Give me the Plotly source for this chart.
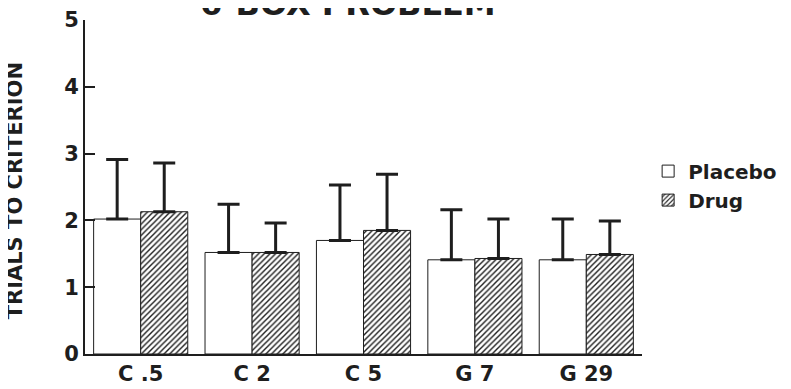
import plotly.graph_objects as go

categories = ["C .5", "C 2", "C 5", "G 7", "G 29"]
placebo_mean = [2.02, 1.52, 1.70, 1.41, 1.41]
placebo_upper = [2.91, 2.24, 2.53, 2.16, 2.02]
drug_mean = [2.13, 1.52, 1.85, 1.43, 1.49]
drug_upper = [2.86, 1.96, 2.69, 2.02, 1.99]
y_ticks = [0, 1, 2, 3, 4, 5]

FONT = "DejaVu Sans"
INK = "#1e1e1e"

def upper_err(means, uppers):
    return [u - m for m, u in zip(means, uppers)]

fig = go.Figure()
fig.add_trace(go.Bar(
    name="Placebo", x=categories, y=placebo_mean,
    marker=dict(color="white", line=dict(color=INK, width=1)),
    error_y=dict(type="data", symmetric=False,
                 array=upper_err(placebo_mean, placebo_upper),
                 arrayminus=[0] * len(categories),
                 color=INK, thickness=3, width=11),
))
fig.add_trace(go.Bar(
    name="Drug", x=categories, y=drug_mean,
    marker=dict(color="white", line=dict(color=INK, width=1),
                pattern=dict(shape="/", size=4, solidity=0.35,
                             fgcolor=INK, bgcolor="white", fillmode="replace")),
    error_y=dict(type="data", symmetric=False,
                 array=upper_err(drug_mean, drug_upper),
                 arrayminus=[0] * len(categories),
                 color=INK, thickness=3, width=11),
))

fig.update_layout(
    width=791, height=389,
    margin=dict(l=77, r=157, t=12, b=43, autoexpand=False),
    paper_bgcolor="white", plot_bgcolor="white",
    barmode="group", bargap=0.155, bargroupgap=0,
    font=dict(family=FONT, size=21, color=INK),
    showlegend=True,
    legend=dict(x=1.011, xanchor="left", y=0.606, yanchor="top",
                font=dict(family=FONT, size=20, color=INK, weight="bold"),
                bgcolor="rgba(0,0,0,0)", tracegroupgap=0, itemwidth=30),
    xaxis=dict(range=[-0.5, 4.5], showline=True, linecolor=INK, linewidth=2,
               ticks="", showgrid=False, zeroline=False, automargin=False,
               tickfont=dict(family=FONT, size=21, color=INK, weight="bold")),
    yaxis=dict(range=[0, 5], tickvals=y_ticks, showline=True, linecolor=INK,
               linewidth=2, ticks="inside", ticklen=10, tickwidth=2,
               tickcolor=INK, showgrid=False, zeroline=False, automargin=False,
               tickfont=dict(family=FONT, size=21, color=INK, weight="bold")),
    annotations=[
        dict(text="6-BOX PROBLEM", xref="paper", yref="paper", x=0.472, y=1,
             xanchor="center", yanchor="bottom", yshift=-5, showarrow=False,
             font=dict(family=FONT, size=32, color=INK, weight="bold")),
        dict(text="TRIALS TO CRITERION", xref="paper", yref="paper",
             x=-0.1257, y=0.49, xanchor="center", yanchor="middle",
             textangle=-90, showarrow=False,
             font=dict(family=FONT, size=21, color=INK, weight="bold")),
    ],
)

fig.write_html("out.html")
